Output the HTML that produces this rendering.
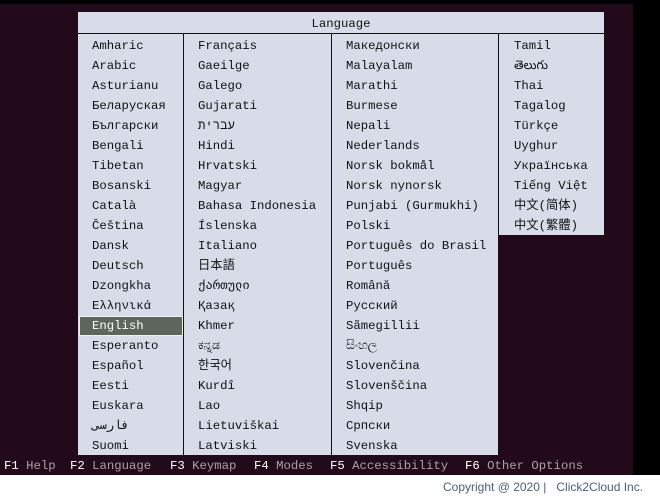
<!DOCTYPE html>
<html><head><meta charset="utf-8"><style>
*{margin:0;padding:0}
body{width:660px;height:500px;position:relative;background:#fff;overflow:hidden;font-family:"Liberation Mono","Noto Sans CJK SC",monospace;}
.blk{position:absolute;background:#000}
#bg{position:absolute;left:0;top:4px;width:633px;height:471px;background:#230a1b}
.p{position:absolute;background:#d8dce8}
.t{position:absolute;font-size:12.3px;line-height:20px;color:#111;white-space:pre}
.v{position:absolute;width:1px;background:#111}
.f{position:absolute;top:457px;font-size:12.3px;line-height:18px;color:#a9a1a8;white-space:pre}
.f b{color:#fff;font-weight:normal}
</style></head><body>
<div class="blk" style="left:0;top:0;width:660px;height:4px"></div>
<div class="blk" style="left:633px;top:0;width:27px;height:475px"></div>
<div id="bg"></div>
<div class="p" style="left:78px;top:12px;width:526px;height:443px"></div>
<div style="position:absolute;left:78px;top:33px;width:526px;height:1px;background:#111"></div>
<div class="t" style="left:78px;top:14px;width:526px;text-align:center">Language</div>
<div class="v" style="left:183px;top:34px;height:421px"></div>
<div class="v" style="left:331px;top:34px;height:421px"></div>
<div class="v" style="left:498px;top:34px;height:421px"></div>
<div style="position:absolute;left:499px;top:235px;width:105px;height:220px;background:#230a1b"></div>
<div style="position:absolute;left:79px;top:316px;width:102px;height:18px;background:#5d665b;border:1px solid #f0f0f0"></div>
<div class="t" style="left:92px;top:36px">Amharic
Arabic
Asturianu
Беларуская
Български
Bengali
Tibetan
Bosanski
Català
Čeština
Dansk
Deutsch
Dzongkha
Ελληνικά
<span style="color:#fff">English</span>
Esperanto
Español
Eesti
Euskara
فارسی
Suomi</div>
<div class="t" style="left:198px;top:36px">Français
Gaeilge
Galego
Gujarati
עברית
Hindi
Hrvatski
Magyar
Bahasa Indonesia
Íslenska
Italiano
日本語
ქართული
Қазақ
Khmer
ಕನ್ನಡ
한국어
Kurdî
Lao
Lietuviškai
Latviski</div>
<div class="t" style="left:346px;top:36px">Македонски
Malayalam
Marathi
Burmese
Nepali
Nederlands
Norsk bokmål
Norsk nynorsk
Punjabi (Gurmukhi)
Polski
Português do Brasil
Português
Română
Русский
Sãmegillii
සිංහල
Slovenčina
Slovenščina
Shqip
Српски
Svenska</div>
<div class="t" style="left:514px;top:36px">Tamil
తెలుగు
Thai
Tagalog
Türkçe
Uyghur
Українська
Tiếng Việt
中文(简体)
中文(繁體)</div>
<div class="f" style="left:4px"><b>F1</b> Help</div>
<div class="f" style="left:70px"><b>F2</b> Language</div>
<div class="f" style="left:170px"><b>F3</b> Keymap</div>
<div class="f" style="left:254px"><b>F4</b> Modes</div>
<div class="f" style="left:330px"><b>F5</b> Accessibility</div>
<div class="f" style="left:465px"><b>F6</b> Other Options</div>
<div style="position:absolute;left:443px;top:480px;font-family:'Liberation Sans',sans-serif;font-size:12px;color:#4d5d80;white-space:pre">Copyright @ 2020 |   Click2Cloud Inc.</div>
</body></html>
